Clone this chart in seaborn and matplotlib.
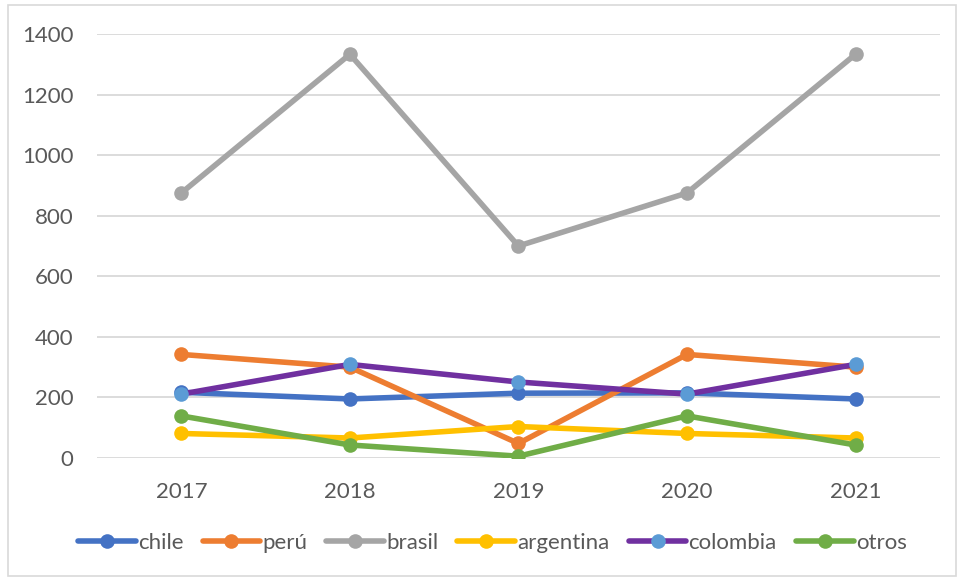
import pandas as pd
import matplotlib.pyplot as plt
import seaborn as sns
from matplotlib.patches import Rectangle

# Data
years = ["2017", "2018", "2019", "2020", "2021"]
chile = [217, 195, 214, 215, 195]
peru = [342, 300, 48, 342, 300]
brasil = [875, 1333, 700, 875, 1333]
argentina = [81, 66, 104, 81, 66]
colombia = [211, 309, 251, 211, 309]
otros = [139, 43, 6, 139, 43]

series = {"chile": chile, "perú": peru, "brasil": brasil,
          "argentina": argentina, "colombia": colombia, "otros": otros}
colors = {"chile": "#4472C4", "perú": "#ED7D31", "brasil": "#A5A5A5",
          "argentina": "#FFC000", "colombia": "#7030A0", "otros": "#70AD47"}

df = pd.DataFrame([(y, name, v) for name, vals in series.items() for y, v in zip(years, vals)],
                  columns=["year", "pais", "valor"])

sns.set_style("white")
plt.rcParams["font.family"] = ["Lato", "DejaVu Sans"]

fig = plt.figure(figsize=(9.58, 5.78), dpi=100)
ax = fig.add_axes([0.1013, 0.2076, 0.8797, 0.7336])

sns.lineplot(data=df, x="year", y="valor", hue="pais", palette=colors, marker="o",
             markersize=10.5, markeredgewidth=0, linewidth=4, legend=False, ax=ax, sort=False)

# colombia uses a light-blue marker on a purple line
lines = ax.get_lines()
for line in lines:
    line.set_solid_capstyle("round")
lines[4].set_markerfacecolor("#5B9BD5")
lines[4].set_markeredgecolor("#5B9BD5")

ax.set_xlim(-0.5, 4.5)
ax.set_ylim(0, 1400)
ax.set_yticks(range(0, 1401, 200))
ax.set_xlabel("")
ax.set_ylabel("")
ax.grid(axis="y", color="#D9D9D9", linewidth=1.3)
ax.set_axisbelow(True)
for s in ax.spines.values():
    s.set_visible(False)
ax.tick_params(axis="both", length=0, labelsize=16, labelcolor="#595959")
ax.tick_params(axis="y", pad=17)
ax.tick_params(axis="x", pad=17)

fig.legend(handles=lines, labels=list(series.keys()), loc="center", ncol=6,
           bbox_to_anchor=(0.514, 0.0606), frameon=False, fontsize=16,
           handlelength=2.6, handletextpad=0.1, columnspacing=0.85,
           labelcolor="#595959")

fig.patches.append(Rectangle((0.008, 0.004), 0.99, 0.988, transform=fig.transFigure,
                             fill=False, edgecolor="#D9D9D9", linewidth=1.2))

plt.savefig("out.png", dpi=100)
